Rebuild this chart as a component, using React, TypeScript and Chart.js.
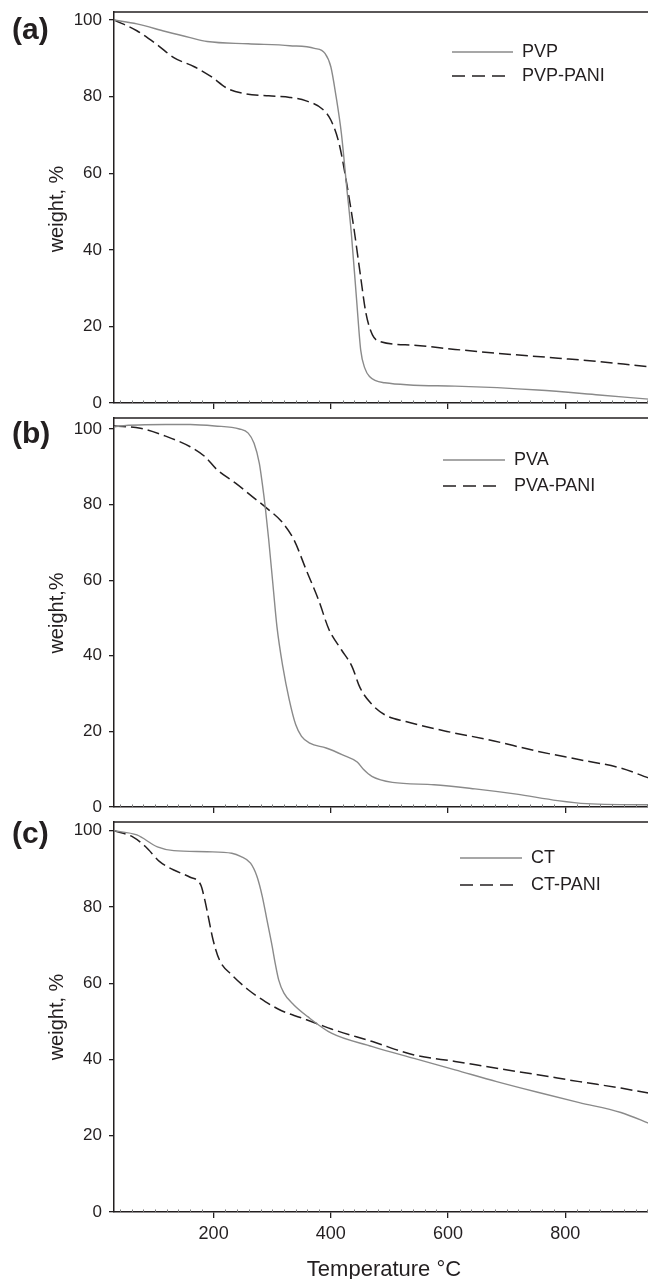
import React, { useEffect, useRef } from "react";
import { Chart, registerables } from "chart.js";

Chart.register(...registerables);

// ---------- data ----------
const X_MIN = 30;
const X_MAX = 960;
const X_TICK_STEP = 200;
const X_MINOR_STEP = 20;
const Y_TICK_STEP = 20;

// Panel (a)
const tempPVP = [30, 69, 118, 160, 189, 259, 330, 372, 390, 400, 409, 418, 427, 435, 444, 451, 458, 466, 492, 612, 753, 858, 942, 950];
const weightPVP = [100, 99, 97, 95.4, 94.4, 93.8, 93.3, 92.6, 91.3, 87.8, 80, 70.4, 56.5, 44.3, 26.9, 13.8, 9.1, 6.9, 5.3, 4.4, 3.4, 2.1, 1.0, 0.9];
const tempPVPPANI = [30, 69, 104, 132, 167, 196, 224, 252, 294, 330, 358, 386, 400, 414, 428, 439, 450, 460, 471, 485, 541, 612, 683, 788, 858, 942, 950];
const weightPVPPANI = [100, 97.2, 93.5, 90.2, 87.8, 85.2, 82.1, 80.8, 80.2, 79.8, 78.9, 76.7, 73.9, 67.8, 56.5, 46, 33.9, 23.4, 17.8, 16, 15.1, 14, 13, 11.7, 10.8, 9.5, 9.4];

// Panel (b)
const tempPVA = [30, 40, 118, 160, 202, 244, 259, 269, 278, 283, 288, 294, 301, 308, 318, 329, 340, 350, 364, 392, 420, 445, 456, 470, 505, 576, 646, 717, 787, 836, 942, 950];
const weightPVA = [100.5, 100.8, 101.2, 101.2, 100.8, 100, 98.9, 96.2, 90.9, 85.6, 79.5, 70.7, 59.2, 47.8, 37.2, 28.4, 21.8, 18.7, 16.9, 15.6, 13.8, 11.9, 9.9, 8.1, 6.5, 5.9, 4.8, 3.4, 1.7, 0.9, 0.6, 0.6];
const tempPVAPANI = [30, 75, 118, 160, 185, 206, 238, 266, 291, 316, 337, 358, 379, 397, 418, 436, 450, 468, 492, 528, 598, 669, 754, 825, 895, 942, 950];
const weightPVAPANI = [100.8, 100.2, 98.1, 95.3, 92.7, 89.2, 85.6, 82.1, 79, 75.5, 70.7, 62.7, 54.8, 46.9, 41.6, 37.2, 31.5, 27.5, 24.4, 22.6, 20, 17.8, 14.7, 12.5, 10.3, 7.7, 7.3];

// Panel (c)
const tempCT = [30, 69, 104, 132, 189, 231, 246, 263, 274, 283, 291, 300, 305, 311, 320, 337, 360, 401, 471, 542, 612, 683, 753, 824, 895, 942, 950];
const weightCT = [100, 98.9, 95.8, 94.8, 94.5, 94.1, 93.3, 91.5, 88, 82.8, 76.6, 69.6, 65.3, 60.9, 57.4, 54.3, 51.3, 46.9, 43.4, 40.3, 37.3, 34.2, 31.4, 28.7, 26.1, 23.3, 22.8];
const tempCTPANI = [30, 62, 84, 108, 132, 160, 178, 185, 192, 199, 210, 231, 259, 288, 316, 348, 380, 401, 471, 542, 612, 683, 753, 824, 895, 942, 950];
const weightCTPANI = [100, 98.4, 95.8, 91.9, 89.7, 87.8, 85.8, 81.8, 76.6, 71.4, 66.1, 62.2, 58.3, 55.2, 52.8, 51.0, 49.2, 48.0, 44.7, 41.2, 39.5, 37.7, 36, 34.2, 32.5, 31.2, 31];

const panelLetters = ["(a)", "(b)", "(c)"];
const yTitles = ["weight, %", "weight,%", "weight, %"];
const xTitle = "Temperature \u00b0C";

// ---------- styles ----------
const FONT = "'Liberation Sans', Arial, Helvetica, sans-serif";
const INK = "#231f20";
const GRAY = "#8a8a8a";
const CANVAS_W = 662;
const Y_AXIS_W = 114;

type Series = { label: string; t: number[]; w: number[]; dashed: boolean };

type PanelProps = {
  top: number;
  height: number;
  padTop: number;
  xAxisHeight: number;
  yMax: number;
  showXLabels: boolean;
  series: Series[];
  legend: { x0: number; x1: number; tx: number; rows: number[] };
};

function Panel(props: PanelProps) {
  const ref = useRef<HTMLCanvasElement | null>(null);
  useEffect(() => {
    const canvas = ref.current;
    if (!canvas) return;
    const { legend } = props;
    const framePlugin = {
      id: "frame",
      afterDraw(chart: any) {
        const { ctx, chartArea: a, scales } = chart;
        ctx.save();
        // top frame line
        ctx.strokeStyle = INK;
        ctx.lineWidth = 1.5;
        ctx.beginPath();
        ctx.moveTo(a.left, a.top);
        ctx.lineTo(a.right, a.top);
        ctx.stroke();
        // minor ticks on bottom axis (inside)
        const xs = scales.x;
        ctx.strokeStyle = "#777";
        ctx.lineWidth = 1;
        for (let v = Math.ceil(xs.min / X_MINOR_STEP) * X_MINOR_STEP; v <= xs.max; v += X_MINOR_STEP) {
          if (v % X_TICK_STEP === 0) continue;
          const px = Math.round(xs.getPixelForValue(v)) + 0.5;
          ctx.beginPath();
          ctx.moveTo(px, a.bottom);
          ctx.lineTo(px, a.bottom - 2.5);
          ctx.stroke();
        }
        // legend
        chart.data.datasets.forEach((ds: any, i: number) => {
          const y = legend.rows[i];
          const dashed = ds.borderDash && ds.borderDash.length;
          ctx.strokeStyle = ds.borderColor;
          ctx.lineWidth = ds.borderWidth;
          ctx.setLineDash(dashed ? [13, 7] : []);
          ctx.beginPath();
          ctx.moveTo(legend.x0, y);
          ctx.lineTo(dashed ? legend.x1 - 8 : legend.x1, y);
          ctx.stroke();
          ctx.setLineDash([]);
          ctx.fillStyle = INK;
          ctx.font = `18px ${FONT}`;
          ctx.textBaseline = "middle";
          ctx.textAlign = "left";
          ctx.fillText(ds.label, legend.tx, y);
        });
        ctx.restore();
      },
    };

    const chart = new Chart(canvas, {
      type: "line",
      data: {
        datasets: props.series.map((s) => ({
          label: s.label,
          data: s.t.map((t, i) => ({ x: t, y: s.w[i] })),
          borderColor: s.dashed ? INK : GRAY,
          borderWidth: s.dashed ? 1.5 : 1.4,
          borderDash: s.dashed ? [12, 5] : [],
          pointRadius: 0,
          fill: false,
          cubicInterpolationMode: "monotone",
        })),
      },
      options: {
        animation: false,
        responsive: false,
        maintainAspectRatio: false,
        events: [],
        layout: {
          autoPadding: false,
          padding: { top: props.padTop, left: 0, right: 3, bottom: 0 },
        },
        plugins: {
          legend: { display: false },
          tooltip: { enabled: false },
          title: { display: false },
        },
        scales: {
          x: {
            type: "linear",
            min: X_MIN,
            max: X_MAX,
            afterFit: (s: any) => {
              s.height = props.xAxisHeight;
              s.paddingLeft = 0;
              s.paddingRight = 0;
            },
            ticks: {
              display: props.showXLabels,
              stepSize: X_TICK_STEP,
              includeBounds: false,
              autoSkip: false,
              maxRotation: 0,
              color: INK,
              padding: 5,
              font: { family: FONT, size: 18 },
            },
            grid: {
              drawOnChartArea: false,
              drawTicks: true,
              tickLength: 6,
              color: INK,
              lineWidth: 1.3,
            },
            border: { display: true, color: INK, width: 1.5 },
          },
          y: {
            type: "linear",
            min: 0,
            max: props.yMax,
            afterFit: (s: any) => {
              s.width = Y_AXIS_W;
              s.paddingTop = 0;
              s.paddingBottom = 0;
            },
            ticks: {
              stepSize: Y_TICK_STEP,
              includeBounds: false,
              color: INK,
              padding: 7,
              font: { family: FONT, size: 17 },
            },
            grid: {
              drawOnChartArea: false,
              drawTicks: true,
              tickLength: 5,
              color: INK,
              lineWidth: 1.3,
            },
            border: { display: true, color: INK, width: 1.5 },
          },
        },
      } as any,
      plugins: [framePlugin],
    });
    return () => chart.destroy();
  }, []);
  return (
    <canvas
      ref={ref}
      width={CANVAS_W}
      height={props.height}
      style={{ position: "absolute", left: 0, top: props.top, width: CANVAS_W, height: props.height }}
    />
  );
}

const panels: PanelProps[] = [
  {
    top: 0,
    height: 412,
    padTop: 12,
    xAxisHeight: 9,
    yMax: 102.1,
    showXLabels: false,
    series: [
      { label: "PVP", t: tempPVP, w: weightPVP, dashed: false },
      { label: "PVP-PANI", t: tempPVPPANI, w: weightPVPPANI, dashed: true },
    ],
    legend: { x0: 452, x1: 513, tx: 522, rows: [52, 76] },
  },
  {
    top: 412,
    height: 404,
    padTop: 6,
    xAxisHeight: 9,
    yMax: 102.9,
    showXLabels: false,
    series: [
      { label: "PVA", t: tempPVA, w: weightPVA, dashed: false },
      { label: "PVA-PANI", t: tempPVAPANI, w: weightPVAPANI, dashed: true },
    ],
    legend: { x0: 443, x1: 505, tx: 514, rows: [48, 74] },
  },
  {
    top: 816,
    height: 463,
    padTop: 6,
    xAxisHeight: 67,
    yMax: 102.3,
    showXLabels: true,
    series: [
      { label: "CT", t: tempCT, w: weightCT, dashed: false },
      { label: "CT-PANI", t: tempCTPANI, w: weightCTPANI, dashed: true },
    ],
    legend: { x0: 460, x1: 522, tx: 531, rows: [42, 69] },
  },
];

const letterTops = [14.4, 418.4, 818.4];
const yTitleCenters = [208.5, 612.5, 1017];

export default function App() {
  useEffect(() => {
    document.body.style.margin = "0";
    document.body.style.background = "#ffffff";
  }, []);
  return (
    <div
      style={{
        position: "relative",
        width: 648,
        height: 1279,
        overflow: "hidden",
        background: "#ffffff",
        fontFamily: FONT,
        color: INK,
      }}
    >
      {panels.map((p, i) => (
        <Panel key={i} {...p} />
      ))}
      {panelLetters.map((l, i) => (
        <div
          key={"l" + i}
          style={{
            position: "absolute",
            left: 12,
            top: letterTops[i],
            font: `bold 30px/30px ${FONT}`,
            whiteSpace: "nowrap",
          }}
        >
          {l}
        </div>
      ))}
      {yTitles.map((t, i) => (
        <div
          key={"y" + i}
          style={{
            position: "absolute",
            left: 55.6 - 100,
            top: yTitleCenters[i] - 12,
            width: 200,
            height: 24,
            textAlign: "center",
            font: `20px/24px ${FONT}`,
            transform: "rotate(-90deg)",
            transformOrigin: "50% 50%",
            whiteSpace: "nowrap",
          }}
        >
          {t}
        </div>
      ))}
      <div
        style={{
          position: "absolute",
          left: 384 - 150,
          top: 1258,
          width: 300,
          textAlign: "center",
          font: `22px/22px ${FONT}`,
          whiteSpace: "nowrap",
        }}
      >
        {xTitle}
      </div>
    </div>
  );
}
